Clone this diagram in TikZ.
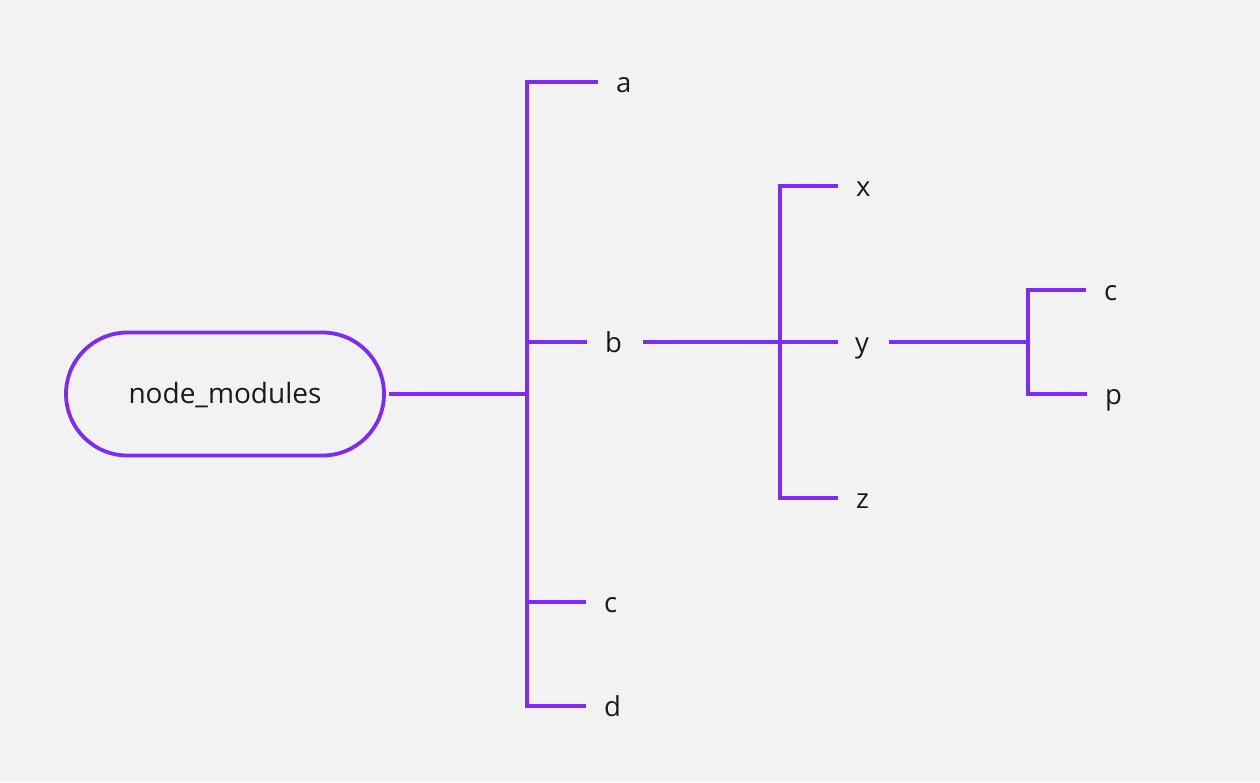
\documentclass[tikz,border=0pt]{standalone}
\usepackage{fontspec}
\setmainfont{Open Sans}
\definecolor{bgc}{HTML}{F2F2F2}
\definecolor{purp}{HTML}{7B2CF5}
\definecolor{txt}{HTML}{1A1A1A}
\begin{document}
\begin{tikzpicture}[x=1pt,y=-1pt,
  conn/.style={draw=purp,line width=3.8pt},
  lbl/.style={anchor=west,inner xsep=0pt,inner ysep=0pt,text height=20pt,text depth=0pt,
    font=\fontsize{27.5}{30}\selectfont,text=txt},
  rootbox/.style={draw=purp,line width=3.8pt,rounded corners=61.5pt,minimum width=318pt,
    minimum height=123pt,font=\fontsize{28}{30}\selectfont,text=txt,inner sep=0pt,
    text height=20pt,text depth=2pt}]
\fill[bgc] (0,0) rectangle (1260,782);
\useasboundingbox (0,0) rectangle (1260,782);
\node[rootbox] (root) at (225,394) {node\_modules};
\coordinate (J1) at (527,394);
\coordinate (J2) at (780,342);
\coordinate (J3) at (1028,342);
\node[lbl] (a) at (616,82) {a};
\node[lbl] (b) at (605,342) {b};
\node[lbl] (c) at (604,602) {c};
\node[lbl] (d) at (604,706) {d};
\node[lbl] (x) at (856,186) {x};
\node[lbl] (y) at (855,342) {y};
\node[lbl] (z) at (856,498) {z};
\node[lbl] (c2) at (1104,290) {c};
\node[lbl] (p) at (1105,394) {p};
% level 1
\draw[conn,shorten <=3.5pt] (root.east) -- (J1);
\draw[conn,shorten <=18pt,shorten >=18pt] (a.west) -- (J1 |- a.west) -- (J1 |- d.west) -- (d.west);
\draw[conn,shorten >=18pt] (J1 |- b.west) -- (b.west);
\draw[conn,shorten >=18pt] (J1 |- c.west) -- (c.west);
% level 2
\draw[conn,shorten <=21pt] (b.east) -- (J2);
\draw[conn,shorten <=18pt,shorten >=18pt] (x.west) -- (J2 |- x.west) -- (J2 |- z.west) -- (z.west);
\draw[conn,shorten >=17pt] (J2) -- (y.west);
% level 3
\draw[conn,shorten <=20pt] (y.east) -- (J3);
\draw[conn,shorten <=18pt,shorten >=18pt] (c2.west) -- (J3 |- c2.west) -- (J3 |- p.west) -- (p.west);
\end{tikzpicture}
\end{document}
